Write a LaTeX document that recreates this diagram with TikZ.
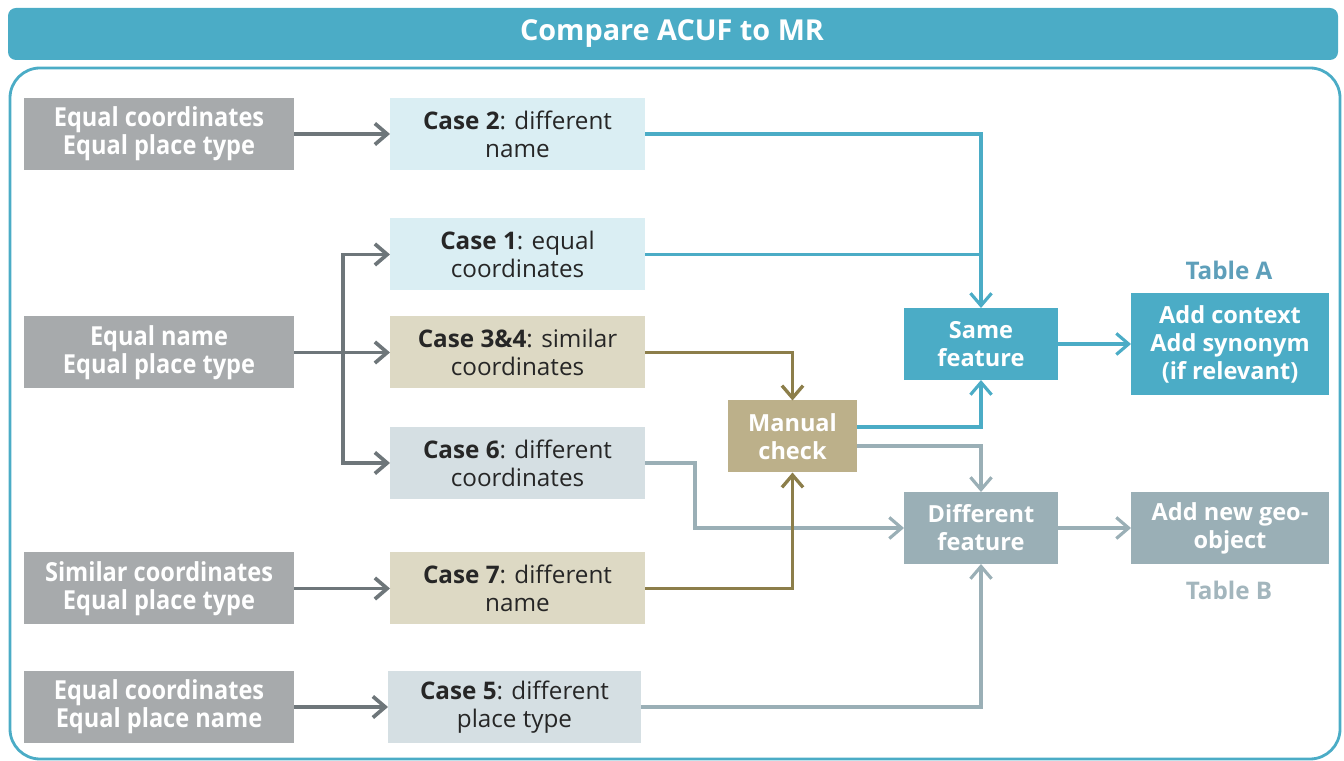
\documentclass[tikz,border=0pt]{standalone}
\usepackage{fontspec}
\setmainfont{Open Sans}
\newfontfamily\narrowfont[FakeStretch=0.9]{Open Sans}
\usetikzlibrary{arrows.meta}

\definecolor{acufteal}{HTML}{4BACC6}
\definecolor{inputgray}{HTML}{A7AAAC}
\definecolor{arrowgray}{HTML}{6E767A}
\definecolor{caseblue}{HTML}{DAEEF3}
\definecolor{casetan}{HTML}{DDD9C4}
\definecolor{casegray}{HTML}{D5DFE3}
\definecolor{manualtan}{HTML}{BCB08A}
\definecolor{olive}{HTML}{8C7E4A}
\definecolor{featgray}{HTML}{9AAFB6}
\definecolor{tablea}{HTML}{5E9FBA}
\definecolor{tableb}{HTML}{A3B6BD}

\tikzset{
  inbox/.style={fill=inputgray, text=white, minimum width=5.4cm, minimum height=1.44cm,
    align=center, inner sep=2pt, outer sep=0pt,
    font=\narrowfont\bfseries\fontsize{14.9}{15.9}\selectfont},
  casebox/.style={minimum width=5.1cm, minimum height=1.44cm, align=center,
    inner sep=2pt, outer sep=0pt, text=black!85,
    font=\fontsize{13.8}{15.9}\selectfont},
  outbox/.style={minimum height=1.44cm, align=center, inner sep=2pt, outer sep=0pt,
    text=white, font=\bfseries\fontsize{13.4}{15.9}\selectfont},
  tablelabel/.style={font=\bfseries\fontsize{13.8}{15}\selectfont},
  tip/.style={-{Straight Barb[length=7pt,width=12pt]}},
  grayline/.style={draw=arrowgray, line width=2.1pt},
  grayarrow/.style={grayline, tip},
  tealline/.style={draw=acufteal, line width=1.8pt},
  tealarrow/.style={tealline, tip},
  olivearrow/.style={draw=olive, line width=1.9pt, tip},
  bluegrayarrow/.style={draw=featgray, line width=1.8pt, tip}
}

\begin{document}
\begin{tikzpicture}
  \useasboundingbox (0,0) rectangle (26.88,15.22);
  % title and frame
  \fill[acufteal, rounded corners=0.16cm] (0.16,14.02) rectangle (26.76,15.06);
  \node[text=white, font=\bfseries\fontsize{16.4}{19}\selectfont] (title) at (13.44,14.54) {Compare ACUF to MR};
  \draw[acufteal, line width=1.6pt, rounded corners=0.6cm] (0.2,0.04) rectangle (26.8,13.86);

  % inputs
  \node[inbox] (eqcoord) at (3.18,12.54) {Equal coordinates\\Equal place type};
  \node[inbox] (eqname) at (3.18,8.17) {Equal name\\Equal place type};
  \node[inbox] (simcoord) at (3.18,3.45) {Similar coordinates\\Equal place type};
  \node[inbox] (eqcoordname) at (3.18,1.08) {Equal coordinates\\Equal place name};

  % cases
  \node[casebox, fill=caseblue] (case2) at (10.35,12.54) {\textbf{Case 2}: different\\name};
  \node[casebox, fill=caseblue] (case1) at (10.35,10.13) {\textbf{Case 1}: equal\\coordinates};
  \node[casebox, fill=casetan] (case34) at (10.35,8.17) {\textbf{Case 3\&4}: similar\\coordinates};
  \node[casebox, fill=casegray] (case6) at (10.35,5.96) {\textbf{Case 6}: different\\coordinates};
  \node[casebox, fill=casetan] (case7) at (10.35,3.45) {\textbf{Case 7}: different\\name};
  \node[casebox, fill=casegray, minimum width=5.06cm] (case5) at (10.29,1.08) {\textbf{Case 5}: different\\place type};

  % results
  \node[outbox, fill=manualtan, minimum width=2.58cm] (manual) at (15.85,6.49) {Manual\\check};
  \node[outbox, fill=acufteal, minimum width=3.08cm] (same) at (19.62,8.34) {Same\\feature};
  \node[outbox, fill=featgray, minimum width=3.08cm] (diff) at (19.62,4.66) {Different\\feature};
  \node[outbox, fill=acufteal, minimum width=3.96cm, minimum height=2.04cm] (context) at (24.6,8.34) {Add context\\Add synonym\\(if relevant)};
  \node[outbox, fill=featgray, minimum width=3.96cm] (newgeo) at (24.6,4.66) {Add new geo-\\object};
  \node[tablelabel, text=tablea] (tablea) at (24.58,9.82) {Table A};
  \node[tablelabel, text=tableb] (tableb) at (24.58,3.42) {Table B};

  % connectors
  \draw[grayarrow] (eqcoord) -- (case2);
  \draw[grayline] (eqname.east) -- ++(0.98,0) coordinate (split);
  \draw[grayarrow] (split) |- (case1.west);
  \draw[grayarrow] (split) -- (case34.west);
  \draw[grayarrow] (split) |- (case6.west);
  \draw[grayarrow] (simcoord) -- (case7);
  \draw[grayarrow] (eqcoordname) -- (case5);

  \coordinate (merge) at (same.north |- case1.east);
  \draw[tealarrow] (case2.east) -| (same.north);
  \draw[tealline] (case1.east) -- (merge);
  \draw[bluegrayarrow] (case6.east) -- ++(1,0) |- (diff.west);
  \draw[olivearrow] (case34.east) -| (manual.north);
  \draw[olivearrow] (case7.east) -| (manual.south);
  \draw[tealarrow] ([yshift=0.19cm]manual.east) -| (same.south);
  \draw[bluegrayarrow] ([yshift=-0.19cm]manual.east) -| (diff.north);
  \draw[bluegrayarrow] (case5.east) -| (diff.south);
  \draw[tealarrow] (same) -- (context);
  \draw[bluegrayarrow] (diff) -- (newgeo);
\end{tikzpicture}
\end{document}
